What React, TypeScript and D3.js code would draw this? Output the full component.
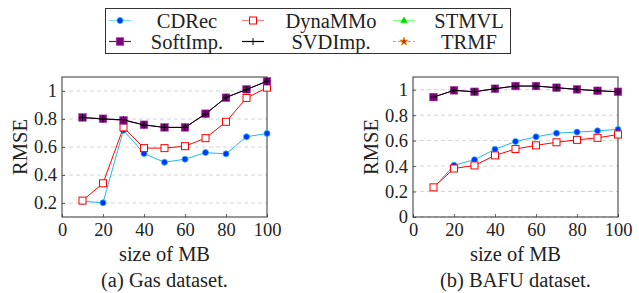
import React, { useEffect, useRef } from "react";
import * as d3 from "d3";

const sizes = [10, 20, 30, 40, 50, 60, 70, 80, 90, 100];

const gasCDRec = [0.212, 0.202, 0.72, 0.553, 0.491, 0.513, 0.56, 0.551, 0.673, 0.697];
const gasDynaMMo = [0.217, 0.341, 0.74, 0.592, 0.592, 0.606, 0.663, 0.78, 0.95, 1.024];
const gasSoftImp = [0.811, 0.802, 0.79, 0.759, 0.74, 0.74, 0.838, 0.952, 1.012, 1.069];
const gasSVDImp = [0.81, 0.8, 0.795, 0.757, 0.74, 0.74, 0.835, 0.955, 1.01, 1.07];

const bafuCDRec = [0.228, 0.407, 0.45, 0.532, 0.593, 0.63, 0.659, 0.667, 0.677, 0.688];
const bafuDynaMMo = [0.233, 0.381, 0.405, 0.484, 0.534, 0.563, 0.587, 0.606, 0.622, 0.648];
const bafuSoftImp = [0.942, 0.995, 0.984, 1.008, 1.029, 1.029, 1.016, 1.003, 0.992, 0.984];
const bafuSVDImp = [0.942, 0.995, 0.984, 1.008, 1.029, 1.029, 1.016, 1.003, 0.992, 0.984];

// STMVL / TRMF are in the legend but have no visible marks
const gasSTMVL: number[] = [];
const gasTRMF: number[] = [];
const bafuSTMVL: number[] = [];
const bafuTRMF: number[] = [];

const xTicks = [0, 20, 40, 60, 80, 100];
const gasYTicks = [0.2, 0.4, 0.6, 0.8, 1];
const bafuYTicks = [0, 0.2, 0.4, 0.6, 0.8, 1];

const FONT = "Liberation Serif";

type Style = {
    name: string;
    line: string;
    legendLine: string;
    marker: string;
    dash?: string;
};

const styles: Style[] = [
    { name: "CDRec", line: "#22b8ec", legendLine: "#7fd8f8", marker: "circle" },
    { name: "DynaMMo", line: "#ff0000", legendLine: "#ff8080", marker: "square-open" },
    { name: "STMVL", line: "#00ff00", legendLine: "#80ff80", marker: "triangle" },
    { name: "SoftImp.", line: "#800080", legendLine: "#800080", marker: "square" },
    { name: "SVDImp.", line: "#000000", legendLine: "#000000", marker: "plus" },
    { name: "TRMF", line: "#e69500", legendLine: "#e6a520", marker: "star", dash: "3,2" },
];

function drawMarker(g: d3.Selection<SVGGElement, unknown, null, undefined>, kind: string, x: number, y: number) {
    if (kind === "circle") {
        g.append("circle").attr("cx", x).attr("cy", y).attr("r", 3)
            .attr("fill", "#0033ff").attr("stroke", "#22b8ec").attr("stroke-width", 0.8);
    } else if (kind === "square-open") {
        g.append("rect").attr("x", x - 3.5).attr("y", y - 3.5).attr("width", 7).attr("height", 7)
            .attr("fill", "white").attr("stroke", "#ff0000").attr("stroke-width", 1);
    } else if (kind === "square") {
        g.append("rect").attr("x", x - 3.8).attr("y", y - 3.8).attr("width", 7.6).attr("height", 7.6)
            .attr("fill", "#800080").attr("stroke", "#a040a0").attr("stroke-width", 0.6);
    } else if (kind === "plus") {
        g.append("path").attr("d", `M${x - 3.5},${y}H${x + 3.5}M${x},${y - 3.5}V${y + 3.5}`)
            .attr("stroke", "#000").attr("stroke-width", 1);
    } else if (kind === "triangle") {
        g.append("path").attr("d", `M${x},${y - 3.5}L${x + 3.2},${y + 2.2}L${x - 3.2},${y + 2.2}Z`)
            .attr("fill", "#00cc00").attr("stroke", "#00ff00").attr("stroke-width", 0.8);
    } else if (kind === "star") {
        g.append("path").attr("d", d3.symbol(d3.symbolStar, 22)()!).attr("transform", `translate(${x},${y})`)
            .attr("fill", "#cc2200").attr("stroke", "#e69500").attr("stroke-width", 0.8);
    }
}

type Panel = {
    left: number;
    right: number;
    top: number;
    bottom: number;
    yDomain: [number, number];
    yTicks: number[];
    series: number[][];
    caption: string;
};

const App = () => {
    const ref = useRef<SVGSVGElement>(null);

    useEffect(() => {
        if (!ref.current) return;
        const svg = d3.select(ref.current);
        svg.selectAll("*").remove();

        const panels: Panel[] = [
            {
                left: 62, right: 267, top: 77, bottom: 217,
                yDomain: [0.1, 1.1], yTicks: gasYTicks,
                series: [gasCDRec, gasDynaMMo, gasSTMVL, gasSoftImp, gasSVDImp, gasTRMF],
                caption: "(a) Gas dataset.",
            },
            {
                left: 413, right: 618, top: 77, bottom: 217,
                yDomain: [0, 1.1], yTicks: bafuYTicks,
                series: [bafuCDRec, bafuDynaMMo, bafuSTMVL, bafuSoftImp, bafuSVDImp, bafuTRMF],
                caption: "(b) BAFU dataset.",
            },
        ];

        panels.forEach((p) => {
            const x = d3.scaleLinear().domain([0, 100]).range([p.left, p.right]);
            const y = d3.scaleLinear().domain(p.yDomain).range([p.bottom, p.top]);
            const g = svg.append("g");

            // grid
            g.selectAll(".grid")
                .data(p.yTicks)
                .enter()
                .append("line")
                .attr("x1", p.left)
                .attr("x2", p.right)
                .attr("y1", (d) => y(d))
                .attr("y2", (d) => y(d))
                .attr("stroke", "#c8c8c8")
                .attr("stroke-width", 0.8)
                .attr("stroke-dasharray", "4,3");

            const xAxis = d3.axisBottom(x).tickValues(xTicks).tickSize(-3).tickPadding(5).tickFormat((d) => `${d}`);
            const yAxis = d3.axisLeft(y).tickValues(p.yTicks).tickSize(-3).tickPadding(5).tickFormat((d) => `${d}`);

            const xg = g.append("g").attr("transform", `translate(0,${p.bottom})`).call(xAxis);
            const yg = g.append("g").attr("transform", `translate(${p.left},0)`).call(yAxis);
            [xg, yg].forEach((ax) => {
                ax.attr("font-family", FONT).attr("font-size", 18.5);
                ax.select(".domain").remove();
                ax.selectAll("line").attr("stroke", "#444").attr("stroke-width", 0.8);
                ax.selectAll("text").attr("fill", "#222");
            });
            xg.selectAll("text").attr("dy", "0.75em");

            g.append("rect")
                .attr("x", p.left)
                .attr("y", p.top)
                .attr("width", p.right - p.left)
                .attr("height", p.bottom - p.top)
                .attr("fill", "none")
                .attr("stroke", "#333")
                .attr("stroke-width", 1);

            const line = d3.line<number>().x((_, i) => x(sizes[i])).y((d) => y(d));

            p.series.forEach((vals, si) => {
                if (!vals.length) return;
                const st = styles[si];
                g.append("path")
                    .attr("d", line(vals)!)
                    .attr("fill", "none")
                    .attr("stroke", st.line)
                    .attr("stroke-width", 1)
                    .attr("stroke-dasharray", st.dash ?? null);
                const mg = g.append("g");
                vals.forEach((v, i) => drawMarker(mg, st.marker, x(sizes[i]), y(v)));
            });

            const cx = (p.left + p.right) / 2;
            const labels = g.append("g").attr("font-family", FONT).attr("font-size", 20.5).attr("fill", "#222");
            labels.append("text")
                .attr("transform", `translate(${p.left - 42},${(p.top + p.bottom) / 2}) rotate(-90)`)
                .attr("text-anchor", "middle")
                .attr("dy", "0.35em")
                .text("RMSE");
            labels.append("text")
                .attr("x", cx)
                .attr("y", 254)
                .attr("text-anchor", "middle")
                .attr("dy", "0.35em")
                .text("size of MB");
            labels.append("text")
                .attr("x", cx)
                .attr("y", 280)
                .attr("text-anchor", "middle")
                .attr("dy", "0.35em")
                .text(p.caption);
        });

        // legend
        const lg = svg.append("g");
        lg.append("rect")
            .attr("x", 105.5)
            .attr("y", 8.5)
            .attr("width", 405)
            .attr("height", 45)
            .attr("fill", "white")
            .attr("stroke", "#333")
            .attr("stroke-width", 1);
        const colX = [120, 253, 404];
        const textX = [187, 331, 469];
        const rowY = [20.5, 41.5];
        styles.forEach((st, i) => {
            const col = i % 3;
            const row = Math.floor(i / 3);
            const mx = colX[col];
            const my = rowY[row];
            lg.append("line")
                .attr("x1", mx - 11)
                .attr("x2", mx + 11)
                .attr("y1", my)
                .attr("y2", my)
                .attr("stroke", st.legendLine)
                .attr("stroke-width", 1.2)
                .attr("stroke-dasharray", st.dash ?? null);
            drawMarker(lg, st.marker, mx, my);
            lg.append("text")
                .attr("x", textX[col])
                .attr("y", my)
                .attr("dy", "0.35em")
                .attr("text-anchor", "middle")
                .attr("font-family", FONT)
                .attr("font-size", 20.5)
                .attr("fill", "#222")
                .text(st.name);
        });
    }, []);

    return (
        <svg
            ref={ref}
            width={639}
            height={293}
            style={{ position: "absolute", left: 0, top: 0, background: "white" }}
        />
    );
};

export default App;
